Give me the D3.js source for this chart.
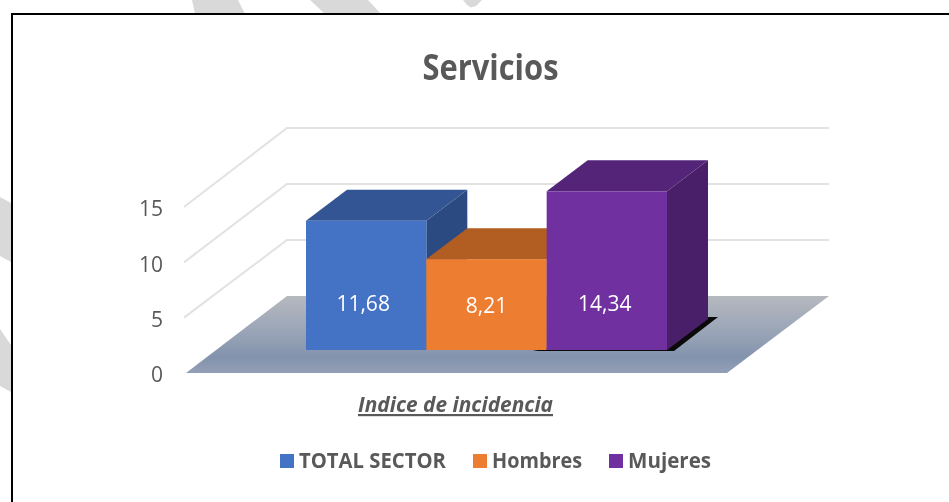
<!DOCTYPE html>
<html>
<head>
<meta charset="utf-8">
<style>
html,body{margin:0;padding:0;background:#fff;overflow:hidden}
svg{display:block;filter:blur(0.35px)}
text{font-family:"Open Sans",sans-serif;fill:#595959}
</style>
<script src="https://cdnjs.cloudflare.com/ajax/libs/d3/7.8.5/d3.min.js"></script>
</head>
<body>
<svg id="c" width="949" height="502"></svg>
<script>
const chartTitle = "Servicios";
const axisTitle = "Indice de incidencia";
const categories = ["TOTAL SECTOR", "Hombres", "Mujeres"];
const values = [11.68, 8.21, 14.34];
const valueLabels = ["11,68", "8,21", "14,34"];
const yTicks = [0, 5, 10, 15];
const faceColors = ["#4472c4", "#ed7d31", "#7030a0"];
const topColors = ["#335593", "#b25d22", "#532478"];
const sideColors = ["#2b4a82", "#9e5120", "#481f68"];

const W = 949, H = 502;
const svg = d3.select("#c");
const poly = pts => "M" + pts.map(p => p.join(",")).join("L") + "Z";

// faint background shapes outside the frame
const bgShapes = [
  [[192,0],[238,0],[245,14],[195,14]],
  [[310,0],[368,0],[381,14],[325,14]],
  [[463,0],[482,0],[476,6],[471,7.5],[467,5]],
  [[0,197],[11,203],[11,262],[0,256]],
  [[0,329],[11,345],[11,392],[0,386]]
];
svg.selectAll(".bg").data(bgShapes).join("path").attr("d", poly).attr("fill", "#d9d9d9");

// frame
svg.append("path").attr("d", `M12,${H}V14H${W}`).attr("fill", "none").attr("stroke", "#000").attr("stroke-width", 2);

// scales: front plane and back wall of the 3-D box
const yFront = d3.scaleLinear().domain([0, 15]).range([373, 207]);
const yBack = d3.scaleLinear().domain([0, 15]).range([296, 128]);
const xFrontLeft = 186, xFrontRight = 727, xBackLeft = 287, xBackRight = 829;
const x = d3.scaleBand().domain(categories).range([306, 667]);
const barBase = 350, dx3 = 41, dy3 = 31;

// floor
const defs = svg.append("defs");
const g = defs.append("linearGradient").attr("id", "floor").attr("x1", 0).attr("y1", 0).attr("x2", 0).attr("y2", 1);
[[0,"#b6b9be"],[0.45,"#9aa5b7"],[0.8,"#8393ae"],[1,"#939fb6"]].forEach(s => g.append("stop").attr("offset", s[0]).attr("stop-color", s[1]));
svg.append("path")
  .attr("d", poly([[xFrontLeft, yFront(0)], [xFrontRight, yFront(0)], [xBackRight, yBack(0)], [xBackLeft, yBack(0)]]))
  .attr("fill", "url(#floor)");

// gridlines on the side and back walls
svg.selectAll(".grid").data(yTicks.filter(d => d > 0)).join("path")
  .attr("d", d => `M${xFrontLeft - 2},${yFront(d)}L${xBackLeft},${yBack(d)}H${xBackRight}`)
  .attr("fill", "none").attr("stroke", "#e2e2e2").attr("stroke-width", 2);

// shadow under the tallest bar
const last = categories[2];
svg.append("path")
  .attr("d", poly([[x(last) - 14, barBase + 1], [x(last) + x.bandwidth() + 7, barBase + 1], [x(last) + x.bandwidth() + 51, barBase - 33], [x(last) + x.bandwidth() + 40, barBase - 33]]))
  .attr("fill", "#0a0a0a");

// bars
const bars = svg.selectAll(".bar").data(categories).join("g").attr("class", "bar");
const h = v => yFront(0) - yFront(v);
bars.append("path").attr("fill", (d, i) => sideColors[i]).attr("d", (d, i) => {
  const r = x(d) + x.bandwidth(), t = barBase - h(values[i]);
  return poly([[r, t], [r + dx3, t - dy3], [r + dx3, barBase - dy3], [r, barBase]]);
});
bars.append("path").attr("fill", (d, i) => topColors[i]).attr("d", (d, i) => {
  const l = x(d), r = l + x.bandwidth(), t = barBase - h(values[i]);
  return poly([[l, t], [r, t], [r + dx3, t - dy3], [l + dx3, t - dy3]]);
});
bars.append("rect").attr("fill", (d, i) => faceColors[i])
  .attr("x", d => x(d)).attr("width", x.bandwidth())
  .attr("y", (d, i) => barBase - h(values[i])).attr("height", (d, i) => h(values[i]));

// value labels
const labelNudgeX = [-3, 0, -2], labelNudgeY = [0, 2, 0];
bars.append("text")
  .attr("x", (d, i) => x(d) + x.bandwidth() / 2 + labelNudgeX[i])
  .attr("y", (d, i) => barBase - 39 + labelNudgeY[i])
  .attr("text-anchor", "middle").attr("font-size", 21)
  .style("fill", "#fff")
  .text((d, i) => valueLabels[i]);

// value axis
const axis = svg.append("g").attr("transform", "translate(163,0)")
  .call(d3.axisLeft(yFront).tickValues(yTicks).tickSize(0).tickPadding(0));
axis.select(".domain").remove();
axis.selectAll("text").attr("font-size", 21).attr("font-family", '"Open Sans",sans-serif').attr("dy", "0.42em").style("fill", "#595959");

// titles
svg.append("text").attr("x", 490.5).attr("y", 80).attr("text-anchor", "middle")
  .attr("font-size", 35).attr("font-weight", 700)
  .attr("textLength", 136).attr("lengthAdjust", "spacingAndGlyphs").text(chartTitle);
svg.append("text").attr("x", 455.5).attr("y", 412).attr("text-anchor", "middle")
  .attr("font-size", 22).attr("font-weight", 700).attr("font-style", "italic")
  .attr("text-decoration", "underline")
  .attr("textLength", 195).attr("lengthAdjust", "spacingAndGlyphs").text(axisTitle);

// legend
const legendSwatchX = [280, 473, 609], legendTextWidth = [147, 90, 83];
const lg = svg.selectAll(".lg").data(categories).join("g").attr("class", "lg");
lg.append("rect").attr("x", (d, i) => legendSwatchX[i]).attr("y", 454).attr("width", 14).attr("height", 14)
  .attr("fill", (d, i) => faceColors[i]);
lg.append("text").attr("x", (d, i) => legendSwatchX[i] + 19).attr("y", 468)
  .attr("font-size", 22).attr("font-weight", 700)
  .attr("textLength", (d, i) => legendTextWidth[i]).attr("lengthAdjust", "spacingAndGlyphs")
  .text(d => d);
</script>
</body>
</html>
